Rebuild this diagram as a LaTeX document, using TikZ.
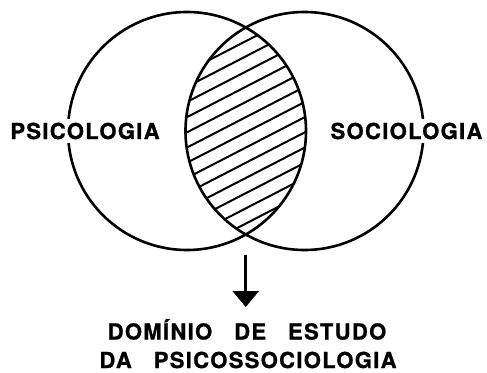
\documentclass[tikz,border=0pt]{standalone}
\usepackage{fontspec}
\setmainfont{TeX Gyre Heros}
\usetikzlibrary{arrows.meta}
\tikzset{
    rotulo/.style={font=\bfseries\fontsize{22}{25}\selectfont\addfontfeature{LetterSpace=6,FakeBold=1}, inner sep=4pt},
    titulo/.style={rotulo, inner sep=1pt, anchor=base},
    conjunto/.style={line width=2.6pt},
    hachura/.style={line width=2pt},
    seta/.style={line width=2.6pt, -{Triangle[width=26pt,length=16pt]}},
}
\begin{document}
\begin{tikzpicture}[x=1pt,y=-1pt]
    \useasboundingbox (0,0) rectangle (487,372);
    \coordinate (cpsi) at (187,131);
    \coordinate (csoc) at (304.5,131);
    \coordinate (baixo) at (245.75,234.5);

    % zona comum
    \begin{scope}
        \clip (cpsi) circle (119pt);
        \clip (csoc) circle (119pt);
        \foreach \k in {0,...,13}
            \draw [hachura] (100,{41.2+15.2*\k+0.516*145.75}) -- ++(300,-154.8);
    \end{scope}
    \draw [conjunto]
        (cpsi) circle (119pt)
        (csoc) circle (119pt)
    ;

    \node [rotulo, fill=white] (psi) at (85,131) {PSICOLOGIA};
    \node [rotulo, fill=white] (soc) at (406.5,131) {SOCIOLOGIA};
    \node [titulo] (dominio) at (247,339.5) {DOMÍNIO\quad DE\quad ESTUDO};
    \node [titulo] (psicosso) at (248,368) {DA\quad PSICOSSOCIOLOGIA};

    \draw [seta] ([yshift=-20pt]baixo) -- ([yshift=11pt]baixo |- dominio.north);
\end{tikzpicture}
\end{document}
